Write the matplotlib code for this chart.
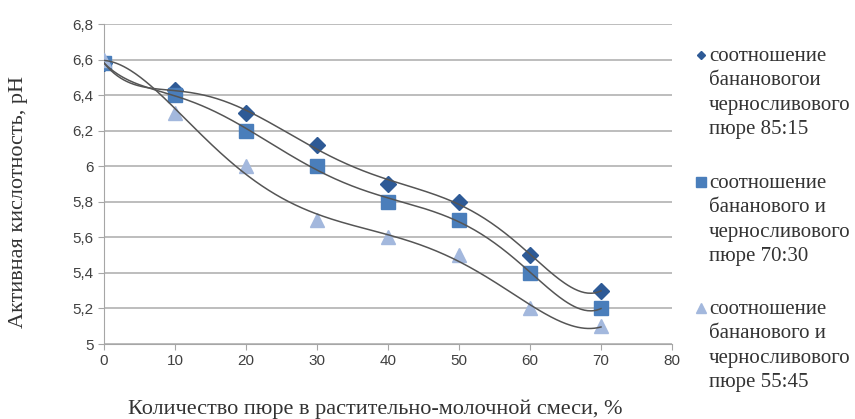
import numpy as np
import matplotlib
matplotlib.use("Agg")
import matplotlib.pyplot as plt
from matplotlib.lines import Line2D

x = [0, 10, 20, 30, 40, 50, 60, 70]
s1 = [6.58, 6.43, 6.30, 6.12, 5.90, 5.80, 5.50, 5.30]
s2 = [6.58, 6.40, 6.20, 6.00, 5.80, 5.70, 5.40, 5.20]
s3 = [6.60, 6.30, 6.00, 5.70, 5.60, 5.50, 5.20, 5.10]
labels = [
    "соотношение\nбанановогои\nчерносливового\nпюре 85:15",
    "соотношение\nбананового и\nчерносливового\nпюре 70:30",
    "соотношение\nбананового и\nчерносливового\nпюре 55:45",
]
trend_degree = [6, 6, 5]
yticks = [5, 5.2, 5.4, 5.6, 5.8, 6, 6.2, 6.4, 6.6, 6.8]
ytick_labels = ["5", "5,2", "5,4", "5,6", "5,8", "6", "6,2", "6,4", "6,6", "6,8"]
xticks = [0, 10, 20, 30, 40, 50, 60, 70, 80]

colors = ["#2E5A96", "#4A7EBB", "#A3B8DD"]
markers = ["D", "s", "^"]
msizes = [8, 10.5, 10.5]
leg_msizes = [4.5, 7, 7]

W, H = 855, 419
fig = plt.figure(figsize=(W / 100, H / 100), dpi=100)
ax = fig.add_axes([104 / W, 1 - 344 / H, 568 / W, 320 / H])

for ys, c, m, ms, deg in zip([s1, s2, s3], colors, markers, msizes, trend_degree):
    ax.plot(x, ys, linestyle="none", marker=m, color=c, markersize=ms,
            markeredgecolor=c, zorder=3)
    coef = np.polyfit(x, ys, deg)
    xs = np.linspace(min(x), max(x), 300)
    ax.plot(xs, np.polyval(coef, xs), color="#555555", linewidth=1.1, zorder=4)

ax.set_xlim(0, 80)
ax.set_ylim(5, 6.8)
ax.set_xticks(xticks)
ax.set_yticks(yticks)
ax.set_yticklabels(ytick_labels)
ax.yaxis.grid(True, color="#B8B8B8", linewidth=1.3)
ax.set_axisbelow(True)
for sp in ["top", "right"]:
    ax.spines[sp].set_visible(False)
for sp in ["left", "bottom"]:
    ax.spines[sp].set_color("#A6A6A6")
ax.tick_params(axis="both", colors="#A6A6A6", labelcolor="#404040",
               labelsize=11, length=4, direction="out")
for t in ax.get_xticklabels() + ax.get_yticklabels():
    t.set_fontfamily("Liberation Sans")

ax.set_xlabel("Количество пюре в растительно-молочной смеси, %",
              fontfamily="Liberation Serif", fontsize=16, color="#333333")
ax.xaxis.set_label_coords(0.477, -0.172)
ax.set_ylabel("Активная кислотность, pH",
              fontfamily="Liberation Serif", fontsize=16, color="#333333")
ax.yaxis.set_label_coords(-0.134, 0.444)

# legend: marker next to first line of each multi-line label
entry_top = [47, 174, 300]
for lab, c, m, ms, top in zip(labels, colors, markers, leg_msizes, entry_top):
    fig.text(709 / W, 1 - top / H, lab, fontfamily="Liberation Serif", fontsize=15,
             color="#333333", va="top", ha="left", linespacing=1.38)
    fig.add_artist(Line2D([701 / W], [1 - (top + 8) / H], marker=m, color=c,
                          markersize=ms, linestyle="none",
                          transform=fig.transFigure))

fig.savefig("out.png", dpi=100)
